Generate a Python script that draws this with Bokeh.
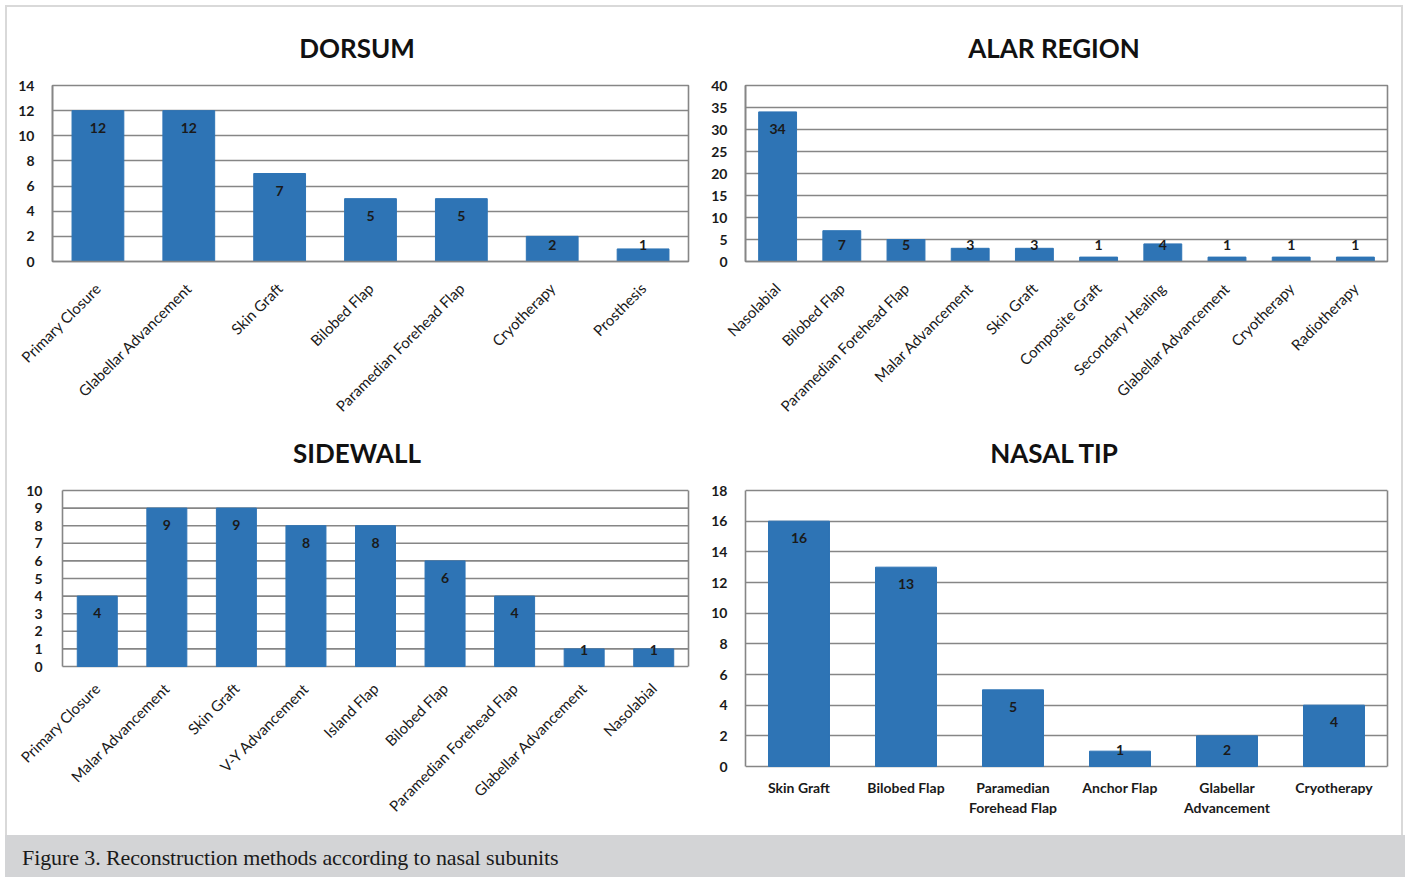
import math
from bokeh.plotting import figure
from bokeh.models import ColumnDataSource, Div, FixedTicker, LinearAxis, Range1d
from bokeh.layouts import column, row
from bokeh.core.properties import value
from bokeh.embed import file_html
from bokeh.resources import INLINE

# ---------------- data ----------------
dorsum_cats = ["Primary Closure", "Glabellar Advancement", "Skin Graft", "Bilobed Flap",
               "Paramedian Forehead Flap", "Cryotherapy", "Prosthesis"]
dorsum_vals = [12, 12, 7, 5, 5, 2, 1]
dorsum_ticks = [0, 2, 4, 6, 8, 10, 12, 14]

alar_cats = ["Nasolabial", "Bilobed Flap", "Paramedian Forehead Flap", "Malar Advancement",
             "Skin Graft", "Composite Graft", "Secondary Healing", "Glabellar Advancement",
             "Cryotherapy", "Radiotherapy"]
alar_vals = [34, 7, 5, 3, 3, 1, 4, 1, 1, 1]
alar_ticks = [0, 5, 10, 15, 20, 25, 30, 35, 40]

sidewall_cats = ["Primary Closure", "Malar Advancement", "Skin Graft", "V-Y Advancement",
                 "Island Flap", "Bilobed Flap", "Paramedian Forehead Flap",
                 "Glabellar Advancement", "Nasolabial"]
sidewall_vals = [4, 9, 9, 8, 8, 6, 4, 1, 1]
sidewall_ticks = [0, 1, 2, 3, 4, 5, 6, 7, 8, 9, 10]

tip_cats = ["Skin Graft", "Bilobed Flap", "Paramedian Forehead Flap", "Anchor Flap",
            "Glabellar Advancement", "Cryotherapy"]
tip_vals = [16, 13, 5, 1, 2, 4]
tip_ticks = [0, 2, 4, 6, 8, 10, 12, 14, 16, 18]
tip_tick_labels = ["Skin Graft", "Bilobed Flap", "Paramedian\nForehead Flap", "Anchor Flap",
                   "Glabellar\nAdvancement", "Cryotherapy"]

titles = ["DORSUM", "ALAR REGION", "SIDEWALL", "NASAL TIP"]
caption = "Figure 3. Reconstruction methods according to nasal subunits"

# ---------------- style ----------------
BAR = "#2E74B5"
GRID = "#868686"
TXT = "#1a1a1a"
FONT = "Lato"
TOP_EXT = 10  # px of frame kept above the top grid line in the bottom row


def title_div(text, width, height, pad_top, pad_left=0, pad_right=0):
    return Div(text=text, width=width, height=height, margin=(0, 0, 0, 0),
               styles={"font-family": FONT, "font-weight": "bold", "font-size": "26px",
                       "color": "#111111", "text-align": "center",
                       "padding-top": f"{pad_top}px", "padding-left": f"{pad_left}px",
                       "padding-right": f"{pad_right}px", "line-height": "30px",
                       "box-sizing": "border-box", "white-space": "nowrap"})


def style_axes(p, ticks, standoff=12):
    p.xgrid.visible = False
    p.ygrid.ticker = FixedTicker(ticks=ticks)
    p.ygrid.grid_line_color = GRID
    p.ygrid.grid_line_width = 1.6
    p.yaxis.ticker = FixedTicker(ticks=ticks)
    p.yaxis.major_tick_line_color = None
    p.yaxis.minor_tick_line_color = None
    p.yaxis.axis_line_color = GRID
    p.yaxis.axis_line_width = 1.6
    p.yaxis.major_label_standoff = standoff
    p.yaxis.major_label_text_font = FONT
    p.yaxis.major_label_text_font_style = "bold"
    p.yaxis.major_label_text_font_size = "14px"
    p.yaxis.major_label_text_color = TXT
    p.background_fill_color = None
    p.border_fill_color = None


def style_rotated_xaxis(p, standoff):
    p.xaxis.major_tick_line_color = None
    p.xaxis.minor_tick_line_color = None
    p.xaxis.axis_line_color = GRID
    p.xaxis.axis_line_width = 1.6
    p.xaxis.major_label_text_font = FONT
    p.xaxis.major_label_text_color = TXT
    p.xaxis.major_label_orientation = math.pi / 4
    p.xaxis.major_label_text_font_size = "15px"
    p.xaxis.major_label_standoff = standoff


def value_labels(p, xs, vals, ymax, frame_h):
    ppu = frame_h / ymax
    tall = [(c, v) for c, v in zip(xs, vals) if v * ppu >= 34]
    short = [(c, v) for c, v in zip(xs, vals) if v * ppu < 34]
    for group, base, off in ((tall, None, 17), (short, 0, -17)):
        if not group:
            continue
        src = ColumnDataSource(dict(x=[c for c, _ in group],
                                    y=[v if base is None else base for _, v in group],
                                    t=[str(v) for _, v in group]))
        p.text(x="x", y="y", text="t", source=src, y_offset=off,
               text_align="center", text_baseline="middle",
               text_font=value(FONT), text_font_style="bold",
               text_font_size="14px", text_color=TXT)


def right_border(p, ymax):
    rax = LinearAxis(bounds=(0, ymax), ticker=FixedTicker(ticks=[]),
                     axis_line_color=GRID, axis_line_width=1.6,
                     major_tick_line_color=None, minor_tick_line_color=None,
                     major_label_text_color=None)
    p.add_layout(rax, "right")


def extended_range(ticks, height, top, bottom, plot_h):
    ymax = ticks[-1]
    upp = ymax / plot_h
    ext_px = height - top - bottom - plot_h - TOP_EXT
    return Range1d(-ext_px * upp, ymax + TOP_EXT * upp)


def rotated_panel(cats, vals, ticks, width, height, left, right, top, bottom,
                  bar_w, standoff):
    ymax = ticks[-1]
    p = figure(x_range=cats, y_range=(0, ymax), width=width, height=height,
               output_backend="svg", toolbar_location=None,
               min_border_left=left, min_border_right=right,
               min_border_top=top, min_border_bottom=bottom)
    p.vbar(x=cats, top=vals, width=bar_w, color=BAR, line_color=BAR)
    value_labels(p, cats, vals, ymax, height - top - bottom)
    style_axes(p, ticks)
    style_rotated_xaxis(p, standoff)
    p.outline_line_color = GRID
    p.outline_line_width = 1.6
    p.x_range.range_padding = 0
    return p


def open_left_panel(cats, vals, ticks, width, height, left_px, right, top, bottom,
                    bar_w, plot_h, label_offset):
    # frame reaches the canvas' left edge so long rotated names are not cut;
    # the value axis is pinned at the first category's left edge
    ymax = ticks[-1]
    n = len(cats)
    xs = [i + 0.5 for i in range(n)]
    ppc = (width - right - left_px) / n
    x0 = -left_px / ppc
    p = figure(x_range=Range1d(x0, n),
               y_range=extended_range(ticks, height, top, bottom, plot_h),
               width=width, height=height, output_backend="svg", toolbar_location=None,
               min_border_left=0, min_border_right=right,
               min_border_top=top, min_border_bottom=bottom)
    p.segment(x0=[0] * len(ticks), x1=[n] * len(ticks), y0=ticks, y1=ticks,
              line_color=GRID, line_width=1.6, level="underlay")
    p.vbar(x=xs, top=vals, width=bar_w, color=BAR, line_color=BAR)
    value_labels(p, xs, vals, ymax, plot_h)
    style_axes(p, ticks, standoff=14)
    p.ygrid.visible = False
    p.yaxis.fixed_location = 0
    p.yaxis.bounds = (0, ymax)
    right_border(p, ymax)
    p.xaxis.visible = False
    p.outline_line_color = None
    src = ColumnDataSource(dict(x=xs, y=[0] * n, t=cats))
    p.text(x="x", y="y", text="t", source=src, y_offset=label_offset,
           angle=math.pi / 4, text_align="right", text_baseline="middle",
           text_font=value(FONT), text_font_size="15px", text_color=TXT)
    return p


def two_line_panel(cats, vals, ticks, labels, width, height, left, right, top, bottom,
                   bar_w, plot_h):
    # the frame is extended below zero so the two-line category names fit inside it
    ymax = ticks[-1]
    p = figure(x_range=cats, y_range=extended_range(ticks, height, top, bottom, plot_h),
               width=width, height=height, output_backend="svg", toolbar_location=None,
               min_border_left=left, min_border_right=right,
               min_border_top=top, min_border_bottom=bottom)
    p.vbar(x=cats, top=vals, width=bar_w, color=BAR, line_color=BAR)
    value_labels(p, cats, vals, ymax, plot_h)
    style_axes(p, ticks)
    p.yaxis.bounds = (0, ymax)
    right_border(p, ymax)
    p.outline_line_color = None
    p.x_range.range_padding = 0
    p.xaxis.visible = False
    lines = [t.split("\n") for t in labels]
    first = ColumnDataSource(dict(x=cats, y=[0] * len(cats), t=[l[0] for l in lines]))
    p.text(x="x", y="y", text="t", source=first, y_offset=21,
           text_align="center", text_baseline="middle", text_font=value(FONT),
           text_font_style="bold", text_font_size="14px", text_color=TXT)
    two = [(c, l[1]) for c, l in zip(cats, lines) if len(l) > 1]
    second = ColumnDataSource(dict(x=[c for c, _ in two], y=[0] * len(two),
                                   t=[s for _, s in two]))
    p.text(x="x", y="y", text="t", source=second, y_offset=41,
           text_align="center", text_baseline="middle", text_font=value(FONT),
           text_font_style="bold", text_font_size="14px", text_color=TXT)
    return p


# top row: titles 0..70, charts 70..427 ; bottom row: titles 427..470, charts 470..835
t1 = title_div(titles[0], 705, 70, 33, pad_left=9)
t2 = title_div(titles[1], 703, 70, 33, pad_right=5)
p1 = rotated_panel(dorsum_cats, dorsum_vals, dorsum_ticks, 705, 357,
                   52, 17, 15, 166, 0.57, 18)
p2 = rotated_panel(alar_cats, alar_vals, alar_ticks, 703, 357,
                   40, 21, 15, 166, 0.59, 18)
t3 = title_div(titles[2], 705, 43, 11, pad_left=9)
t4 = title_div(titles[3], 703, 43, 11, pad_right=5)
p3 = open_left_panel(sidewall_cats, sidewall_vals, sidewall_ticks, 705, 365,
                     62, 17, 20 - TOP_EXT, 10, 0.575, 176, 19)
p4 = two_line_panel(tip_cats, tip_vals, tip_ticks, tip_tick_labels, 703, 365,
                    40, 21, 20 - TOP_EXT, 10, 0.57, 276)

charts = column(row(t1, t2), row(p1, p2), row(t3, t4), row(p3, p4))

cap = Div(text=caption, width=1400, height=43, margin=(0, 0, 0, 5),
          styles={"background-color": "#d3d4d6", "font-family": "Liberation Serif",
                  "font-size": "22px", "color": "#1a1a1a", "padding-left": "17px",
                  "line-height": "46px", "box-sizing": "border-box",
                  "letter-spacing": "-0.1px", "white-space": "nowrap"})

layout = column(charts, cap,
                styles={"outline": "2px solid #d9d9d9", "outline-offset": "-7px"})

with open("out.html", "w") as f:
    f.write(file_html(layout, INLINE))
